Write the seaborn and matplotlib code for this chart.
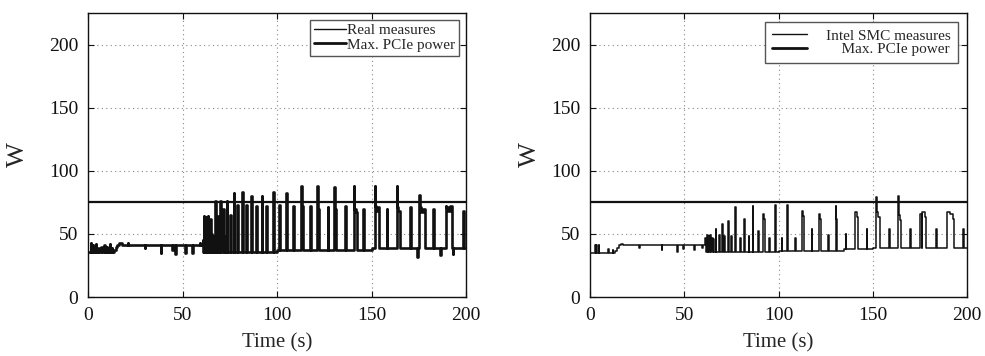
import numpy as np
import pandas as pd
import matplotlib
matplotlib.use("Agg")
import matplotlib.pyplot as plt
import seaborn as sns

T_END = 200          # s
PCIE_MAX = 75        # W, maximum power a PCIe slot may deliver

# ---- Real measures --------------------------------------------------------
# idle/base level: (start time, level)
real_base_t = [0, 13.8, 14.6, 15.4, 16.4, 18, 61, 100, 150]
real_base_v = [35.5, 37, 39.5, 41.5, 42.5, 41, 36, 37, 38.8]
# bursts on top of the base level: start time, duration, level
real_pulse_t = [1.5, 2.5, 4.0, 5.5, 7.0, 8.5, 10.0, 11.5, 12.5,
                21.0, 30.0, 38.5, 44.5, 46.0, 51.5, 55.0, 59.0,
                60.6, 61.2, 61.7, 62.2, 62.8, 63.4, 64.0, 64.6, 65.3, 66.0,
                67.1, 68.0, 68.8, 70.1, 71.5, 72.5, 73.4, 75.0, 77.1, 78.9,
                81.7, 83.8, 86.5, 89.1, 91.8, 94.4, 98.0, 101.2, 105.0, 108.7,
                112.8, 113.1, 117.4, 121.3, 121.6, 126.8, 130.3, 130.6, 136.0,
                140.7, 141.0, 141.6, 145.7, 151.7, 152.0, 152.6, 153.2, 158.0,
                163.3, 163.6, 164.2, 170.4, 174.2, 175.3, 175.6, 176.4, 177.2,
                182.7, 186.5, 189.2, 189.5, 190.5, 191.5, 193.0, 198.6]
real_pulse_w = [0.3, 0.4, 0.3, 0.3, 0.3, 0.3, 0.3, 0.3, 0.3,
                0.3, 0.3, 0.3, 0.3, 0.3, 0.3, 0.3, 0.3,
                0.4, 0.3, 0.3, 0.3, 0.3, 0.3, 0.3, 0.3, 0.3, 0.3,
                0.4, 0.3, 0.4, 0.4, 0.4, 0.3, 0.4, 0.4, 0.4, 0.4,
                0.4, 0.4, 0.4, 0.4, 0.4, 0.4, 0.4, 0.4, 0.4, 0.4,
                0.3, 0.7, 0.4, 0.3, 0.5, 0.4, 0.3, 0.5, 0.4,
                0.3, 0.6, 0.6, 0.4, 0.3, 0.6, 0.6, 0.6, 0.4,
                0.3, 0.6, 1.0, 0.4, 0.4, 0.3, 0.8, 0.8, 1.0,
                0.4, 0.4, 0.3, 1.0, 1.0, 1.0, 0.3, 0.4]
real_pulse_h = [43, 41, 42, 39, 40, 41, 40, 42, 39,
                43, 39, 35, 37, 34, 35, 35, 43,
                45, 64, 50, 63, 48, 64, 52, 62, 50, 48,
                76, 50, 64, 76, 70, 48, 76, 65, 82, 73,
                83, 73, 80, 72, 80, 72, 83, 73, 82, 72,
                88, 72, 72, 88, 70, 71, 87, 70, 72,
                88, 70, 67, 70, 88, 72, 68, 71, 70,
                88, 71, 68, 71, 32, 81, 71, 67, 70,
                70, 33, 72, 71, 68, 72, 34, 68]

# ---- Intel SMC measures ---------------------------------------------------
smc_base_t = [0, 13.2, 14.2, 15.2, 16.2, 17.5, 61, 100, 135, 150]
smc_base_v = [35.2, 36.5, 39, 41, 42, 41, 35.8, 36.5, 38.3, 39]
smc_pulse_t = [2.5, 3.3, 4.6, 9.6, 12.0,
               26.0, 38.0, 46.2, 49.5, 55.3, 59.5,
               61.0, 61.9, 62.7, 63.6, 64.4, 65.3,
               66.7, 68.7, 69.9, 71.1, 73.3, 74.7, 77.0, 79.6, 81.6, 84.2,
               86.3, 89.0, 92.0, 92.5, 95.2, 98.2, 101.7, 104.7, 108.8,
               112.5, 113.1, 117.6, 121.5, 122.1, 126.5, 130.3, 130.7, 135.6,
               140.4, 141.4, 146.8, 151.7, 152.0, 153.0, 158.8, 163.4, 163.7,
               164.7, 169.7, 175.1, 176.3, 177.8, 183.5, 189.4, 190.9, 192.4,
               197.9]
smc_pulse_w = [0.5, 0.6, 0.3, 0.3, 0.3,
               0.3, 0.3, 0.3, 0.3, 0.3, 0.3,
               0.7, 0.5, 0.6, 0.5, 0.6, 0.4,
               0.4, 0.4, 0.4, 0.4, 0.4, 0.4, 0.4, 0.4, 0.4, 0.4,
               0.4, 0.4, 0.5, 0.6, 0.4, 0.4, 0.4, 0.4, 0.4,
               0.6, 0.6, 0.4, 0.6, 0.6, 0.4, 0.4, 0.4, 0.4,
               1.0, 0.6, 0.4, 0.3, 1.0, 0.8, 0.4, 0.3, 1.0,
               0.5, 0.4, 1.2, 1.5, 0.6, 0.4, 1.5, 1.5, 0.5,
               0.4]
smc_pulse_h = [41, 41, 41, 38, 37,
               39, 37, 36, 38, 37, 39,
               47, 49, 48, 49, 47, 46,
               54, 49, 58, 48, 60, 48, 71, 47, 62, 48,
               72, 52, 66, 62, 47, 73, 47, 73, 47,
               68, 64, 54, 66, 62, 49, 72, 62, 50,
               67, 63, 54, 79, 67, 63, 54, 80, 65,
               61, 54, 66, 67, 63, 54, 67, 66, 62,
               54]

x_ticks = [0, 50, 100, 150, 200]
y_ticks = [0, 50, 100, 150, 200]


def build_trace(base_t, base_v, pulse_t, pulse_w, pulse_h):
    """Piecewise-constant power trace: base level with bursts on top."""
    ends = [s + w for s, w in zip(pulse_t, pulse_w)]
    edges = np.unique(np.r_[base_t, pulse_t, ends, T_END])
    vals = []
    for e in edges:
        v = base_v[np.searchsorted(base_t, e, side="right") - 1]
        for s, end, h in zip(pulse_t, ends, pulse_h):
            if s <= e < end:
                v = h
        vals.append(v)
    return pd.DataFrame({"t": edges, "W": vals})


real_df = build_trace(real_base_t, real_base_v, real_pulse_t, real_pulse_w, real_pulse_h)
smc_df = build_trace(smc_base_t, smc_base_v, smc_pulse_t, smc_pulse_w, smc_pulse_h)
limit_df = pd.DataFrame({"t": [0, T_END], "W": [PCIE_MAX, PCIE_MAX]})

sns.set_theme(style="ticks")
plt.rcParams["font.family"] = ["Liberation Serif", "DejaVu Serif"]

W_PX, H_PX = 985, 356
fig = plt.figure(figsize=(W_PX / 100, H_PX / 100), dpi=100)
ax1 = fig.add_axes([88 / W_PX, 59 / H_PX, 378 / W_PX, 284 / H_PX])
ax2 = fig.add_axes([590 / W_PX, 59 / H_PX, 377 / W_PX, 284 / H_PX])

panels = [
    (ax1, real_df, "Real measures", 1.9, "Max. PCIe power", 14,
     dict(handlelength=2.15, handletextpad=0.05, borderpad=0.25, labelspacing=0.05,
          borderaxespad=0.45)),
    (ax2, smc_df, "Intel SMC measures", 1.1, "    Max. PCIe power", 7,
     dict(handlelength=2.3, handletextpad=1.25, borderpad=0.45, labelspacing=0.0,
          borderaxespad=0.6)),
]

for ax, df, label, lw, limit_label, ypad, legkw in panels:
    sns.lineplot(data=df, x="t", y="W", ax=ax, color="#111111", lw=lw,
                 drawstyle="steps-post", estimator=None, sort=False, label=label)
    sns.lineplot(data=limit_df, x="t", y="W", ax=ax, color="#111111", lw=1.6,
                 estimator=None, sort=False, label=limit_label)
    ax.set_xlim(0, T_END)
    ax.set_ylim(0, 225)
    ax.set_xticks(x_ticks)
    ax.set_yticks(y_ticks)
    ax.tick_params(direction="in", length=4, width=0.8, top=True, right=True,
                   labelsize=14, pad=7, colors="#111111")
    ax.grid(True, linestyle=(0, (1, 3)), color="#888888", lw=0.8)
    for sp in ax.spines.values():
        sp.set_color("#111111")
        sp.set_linewidth(1.0)
    ax.set_xlabel("Time (s)", fontsize=15, labelpad=7)
    ax.set_ylabel("W", fontsize=19, labelpad=ypad)
    leg = ax.legend(loc="upper right", frameon=True, fancybox=False,
                    edgecolor="#555555", framealpha=1, fontsize=11, **legkw)
    leg.get_frame().set_linewidth(1.0)
    lines = leg.get_lines()
    lines[0].set_linewidth(1.0)
    lines[1].set_linewidth(2.0)

fig.savefig("out.png", dpi=100)
